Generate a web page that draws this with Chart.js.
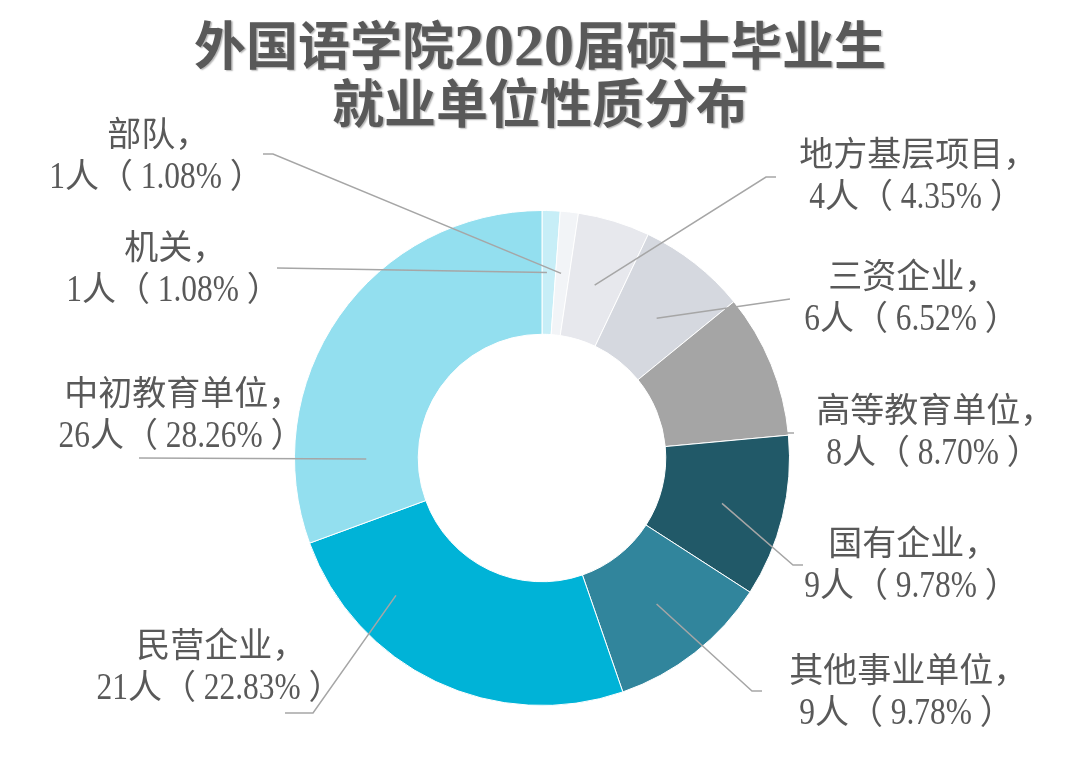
<!DOCTYPE html>
<html lang="zh">
<head>
<meta charset="utf-8">
<title>就业单位性质分布</title>
<script src="https://cdn.jsdelivr.net/npm/chart.js@4.4.1/dist/chart.umd.min.js"></script>
<style>
  html, body { margin: 0; padding: 0; background: #ffffff; }
  #grafico { display: block; }
</style>
</head>
<body>
<canvas id="grafico" width="1080" height="765"></canvas>
<script>
// Datos (orden horario desde las 12)
const categorias = ['机关', '部队', '地方基层项目', '三资企业', '高等教育单位', '国有企业', '其他事业单位', '民营企业', '中初教育单位'];
const personas = [1, 1, 4, 6, 8, 9, 9, 21, 26];
const porcentajes = ['1.08', '1.08', '4.35', '6.52', '8.70', '9.78', '9.78', '22.83', '28.26'];
const titulo = ['外国语学院2020届硕士毕业生', '就业单位性质分布'];

const colores = ['#c7eef7', '#f2f4f7', '#e7e8ed', '#d5d8df', '#a5a5a5', '#215968', '#31859c', '#00b3d7', '#93dfef'];
const colorTexto = '#595959';
const colorGuia = '#a6a6a6';

// Colocación de cada etiqueta respecto al centro del anillo (px)
// texto: centro de la primera línea; ancla: donde empieza la guía; codo: quiebre opcional
// t: fracción del ángulo de la porción; rf: fracción del radio exterior
const etiquetas = [
    { texto: [-377, -212], ancla: [-265, -190], codo: null, t: 0.36, rf: 0.75 },
    { texto: [-394, -325], ancla: [-279, -304], codo: [-269, -304], t: 0.39, rf: 0.75 },
    { texto: [366, -305], ancla: [234, -281], codo: [224, -281], t: 0.5, rf: 0.73 },
    { texto: [361, -183], ancla: [248, -159], codo: null, t: 0.55, rf: 0.73 },
    { texto: [383, -49], ancla: [252, -25], codo: null, t: 0.985, rf: 0.995 },
    { texto: [361, 84], ancla: [261, 107], codo: [251, 107], t: 0.51, rf: 0.75 },
    { texto: [356, 211], ancla: [220, 233], codo: [210, 233], t: 0.5, rf: 0.75 },
    { texto: [-331, 186], ancla: [-257, 255], codo: [-229, 255], t: 0.74, rf: 0.81 },
    { texto: [-369, -66], ancla: [-403, 0], codo: null, t: 0.18, rf: 0.71 }
];

// Escribe una línea mezclando fuente CJK y cifras con serifa
function escribirLinea(ctx, texto, cx, cy, tam, tamNum, peso, escalaX) {
    const fuenteCJK = `${peso} ${tam}px "Noto Sans CJK SC", sans-serif`;
    const fuenteNum = `${peso} ${tamNum}px "Liberation Serif", serif`;
    const trozos = texto.match(/[\x00-\x7f]+|[^\x00-\x7f]+/g);
    const esAscii = tr => /^[\x00-\x7f]/.test(tr);
    const anchos = trozos.map(tr => {
        ctx.font = esAscii(tr) ? fuenteNum : fuenteCJK;
        return ctx.measureText(tr).width * (esAscii(tr) ? escalaX : 1);
    });
    let total = anchos.reduce((a, b) => a + b, 0);
    // la coma y el paréntesis de ancho completo dejan hueco a la derecha
    if (texto.endsWith('，')) total -= tam * 0.6;
    if (texto.endsWith('）')) total -= tam * 0.5;
    let x = cx - total / 2;
    const base = cy + tam * 0.38;
    trozos.forEach((tr, i) => {
        ctx.save();
        ctx.font = esAscii(tr) ? fuenteNum : fuenteCJK;
        ctx.translate(x, base);
        if (esAscii(tr)) ctx.scale(escalaX, 1);
        ctx.textBaseline = 'alphabetic';
        ctx.textAlign = 'left';
        ctx.fillText(tr, 0, 0);
        ctx.restore();
        x += anchos[i];
    });
}

// Título, guías y etiquetas
const pluginEtiquetas = {
    id: 'etiquetas',
    afterDatasetsDraw(chart) {
        const ctx = chart.ctx;
        const meta = chart.getDatasetMeta(0);

        ctx.save();
        ctx.fillStyle = colorTexto;
        ctx.shadowColor = 'rgba(0, 0, 0, 0.3)';
        ctx.shadowOffsetX = 1.5;
        ctx.shadowOffsetY = 1.5;
        ctx.shadowBlur = 1.5;
        escribirLinea(ctx, titulo[0], chart.width / 2, 45, 52, 60, 'bold', 1.0);
        escribirLinea(ctx, titulo[1], chart.width / 2, 103, 52, 60, 'bold', 1.0);
        ctx.restore();

        meta.data.forEach((arco, i) => {
            const e = etiquetas[i];
            const p = arco.getProps(['x', 'y', 'startAngle', 'endAngle', 'outerRadius'], true);
            const ang = p.startAngle + e.t * (p.endAngle - p.startAngle);
            const fx = p.x + Math.cos(ang) * p.outerRadius * e.rf;
            const fy = p.y + Math.sin(ang) * p.outerRadius * e.rf;

            ctx.save();
            ctx.strokeStyle = colorGuia;
            ctx.lineWidth = 1.5;
            ctx.beginPath();
            ctx.moveTo(p.x + e.ancla[0], p.y + e.ancla[1]);
            if (e.codo) ctx.lineTo(p.x + e.codo[0], p.y + e.codo[1]);
            ctx.lineTo(fx, fy);
            ctx.stroke();
            ctx.restore();

            ctx.save();
            ctx.fillStyle = colorTexto;
            const tx = p.x + e.texto[0];
            const ty = p.y + e.texto[1];
            escribirLinea(ctx, `${categorias[i]}，`, tx, ty, 34, 37, 'normal', 0.85);
            escribirLinea(ctx, `${personas[i]}人（ ${porcentajes[i]}% ）`, tx, ty + 42, 34, 37, 'normal', 0.85);
            ctx.restore();
        });
    }
};

const ctx = document.getElementById('grafico').getContext('2d');

new Chart(ctx, {
    type: 'doughnut',
    data: {
        labels: categorias,
        datasets: [{
            data: personas,
            backgroundColor: colores,
            borderColor: '#ffffff',
            borderWidth: 1
        }]
    },
    options: {
        responsive: false,
        animation: false,
        cutout: '50%',
        layout: {
            padding: { top: 210, bottom: 59, left: 294, right: 290 }
        },
        plugins: {
            legend: { display: false },
            tooltip: { enabled: false },
            title: { display: false }
        }
    },
    plugins: [pluginEtiquetas]
});
</script>
</body>
</html>
